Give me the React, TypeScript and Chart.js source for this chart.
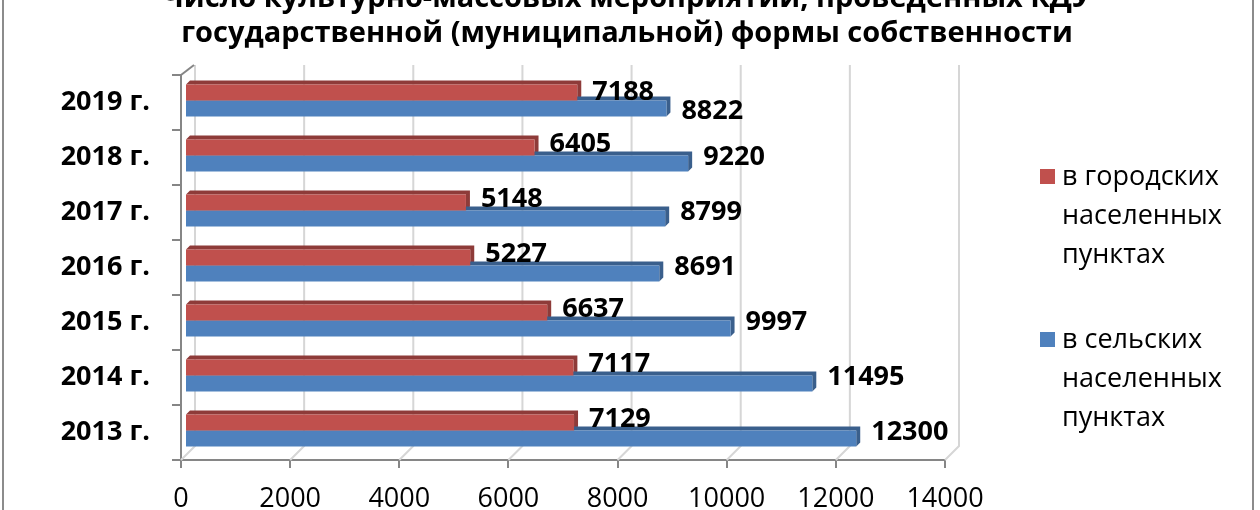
import React, { useEffect, useRef } from "react";
import { Chart, registerables } from "chart.js";

Chart.register(...registerables);

// годы сверху вниз, как на картинке
const years = ["2019 г.", "2018 г.", "2017 г.", "2016 г.", "2015 г.", "2014 г.", "2013 г."];
const cityValues = [7188, 6405, 5148, 5227, 6637, 7117, 7129];
const ruralValues = [8822, 9220, 8799, 8691, 9997, 11495, 12300];
const xTicks = [0, 2000, 4000, 6000, 8000, 10000, 12000, 14000];
const titleLines = [
  "Число культурно-массовых мероприятий, проведенных КДУ",
  "государственной (муниципальной) формы собственности",
];
const legendItems = [
  { lines: ["в городских", "населенных", "пунктах"], color: "#C0504D" },
  { lines: ["в сельских", "населенных", "пунктах"], color: "#4F81BD" },
];

const FONT = "'Open Sans', 'DejaVu Sans', sans-serif";
const SHIFT = 34; // канвас сдвинут вверх, первая строка заголовка обрезана
const DEPTH = 4;
const BAR_DX = 4; // столбцы стоят в середине "глубины"
const BAR_DY = -2;
const WALL_DX = 14; // задняя стенка (сетка)
const darker: Record<string, string> = { "#C0504D": "#8E3B39", "#4F81BD": "#3A5F8C" };

// сетка на задней стенке + диагонали
const wallPlugin = {
  id: "wall",
  beforeDatasetsDraw(chart: any) {
    const ctx = chart.ctx;
    const { top, bottom, left } = chart.chartArea;
    const xs = chart.scales.x;
    ctx.save();
    ctx.strokeStyle = "#d6d6d6";
    ctx.lineWidth = 2;
    xTicks.forEach((v) => {
      const px = xs.getPixelForValue(v);
      ctx.beginPath();
      ctx.moveTo(px + WALL_DX, top - 10);
      ctx.lineTo(px + WALL_DX, bottom - WALL_DX);
      ctx.lineTo(px, bottom);
      ctx.stroke();
    });
    ctx.strokeStyle = "#868686";
    ctx.beginPath();
    ctx.moveTo(left, top);
    ctx.lineTo(left + WALL_DX - 1, top - 10);
    ctx.stroke();
    ctx.restore();
  },
};

// объемные грани столбцов (рисуются до самих столбцов), сдвиг столбцов
const facesPlugin = {
  id: "faces",
  beforeDatasetsDraw(chart: any) {
    const ctx = chart.ctx;
    ctx.save();
    ctx.translate(BAR_DX, BAR_DY);
    chart.data.datasets.forEach((ds: any, i: number) => {
      const meta = chart.getDatasetMeta(i);
      ctx.fillStyle = darker[ds.backgroundColor] || "#555";
      meta.data.forEach((bar: any) => {
        const { x, y, base, height } = bar.getProps(["x", "y", "base", "height"], true);
        const top = y - height / 2;
        const bottom = y + height / 2;
        ctx.beginPath();
        ctx.moveTo(base, top);
        ctx.lineTo(base + DEPTH, top - DEPTH);
        ctx.lineTo(x + DEPTH, top - DEPTH);
        ctx.lineTo(x + DEPTH, bottom - DEPTH);
        ctx.lineTo(x, bottom);
        ctx.lineTo(x, top);
        ctx.closePath();
        ctx.fill();
      });
    });
    // translate остается до afterDatasetsDraw
  },
  afterDatasetsDraw(chart: any) {
    chart.ctx.restore();
  },
};

const valueLabels = {
  id: "valueLabels",
  afterDatasetsDraw(chart: any) {
    const ctx = chart.ctx;
    ctx.save();
    ctx.font = `bold 27px ${FONT}`;
    ctx.fillStyle = "#000";
    ctx.textAlign = "left";
    ctx.textBaseline = "middle";
    chart.data.datasets.forEach((ds: any, i: number) => {
      const meta = chart.getDatasetMeta(i);
      meta.data.forEach((bar: any, j: number) => {
        const { x, y } = bar.getProps(["x", "y"], true);
        // верхняя строка у Excel подписана чуть ниже
        const dy = j === 0 ? (i === 0 ? 0 : 3) : i === 0 ? -3 : -6;
        ctx.fillText(String(ds.data[j]), x + BAR_DX + 15, y + BAR_DY + dy);
      });
    });
    ctx.restore();
  },
};

const titleLegendFrame = {
  id: "titleLegendFrame",
  afterDraw(chart: any) {
    const ctx = chart.ctx;
    ctx.save();
    ctx.strokeStyle = "#8c8c8c";
    ctx.lineWidth = 2;
    ctx.strokeRect(3, 1, 1250, 600);

    ctx.fillStyle = "#000";
    ctx.font = `bold 29px ${FONT}`;
    ctx.textAlign = "center";
    ctx.textBaseline = "alphabetic";
    ctx.fillText(titleLines[0], 627, 7 + SHIFT);
    ctx.fillText(titleLines[1], 627, 42 + SHIFT);

    ctx.font = `27px ${FONT}`;
    ctx.textAlign = "left";
    ctx.textBaseline = "middle";
    const starts = [177, 340];
    legendItems.forEach((item, k) => {
      const y0 = starts[k] + SHIFT;
      ctx.fillStyle = item.color;
      ctx.fillRect(1040, y0 - 8, 15, 15);
      ctx.fillStyle = "#000";
      item.lines.forEach((line, n) => {
        ctx.fillText(line, 1062, y0 + n * 39);
      });
    });
    ctx.restore();
  },
};

const App = () => {
  const canvasRef = useRef<HTMLCanvasElement | null>(null);

  useEffect(() => {
    if (!canvasRef.current) return;
    const chart = new Chart(canvasRef.current, {
      type: "bar",
      data: {
        labels: years,
        datasets: [
          { label: "в городских населенных пунктах", data: cityValues, backgroundColor: "#C0504D" },
          { label: "в сельских населенных пунктах", data: ruralValues, backgroundColor: "#4F81BD" },
        ],
      },
      options: {
        indexAxis: "y",
        responsive: false,
        animation: false,
        layout: { padding: { left: 0, right: 315, top: 75 + SHIFT, bottom: 0 } },
        datasets: { bar: { categoryPercentage: 0.58, barPercentage: 1.0 } },
        scales: {
          x: {
            min: 0,
            max: 14000,
            afterBuildTicks: (scale: any) => {
              scale.ticks = xTicks.map((v) => ({ value: v }));
            },
            afterFit: (scale: any) => {
              scale.height = 50;
            },
            grid: { drawOnChartArea: false, tickColor: "#868686", tickLength: 8, lineWidth: 2 },
            border: { color: "#868686", width: 2 },
            ticks: {
              color: "#000",
              font: { family: FONT, size: 27 },
              padding: 15,
              callback: (v: any) => String(v),
            },
          },
          y: {
            afterFit: (scale: any) => {
              scale.width = 181;
            },
            grid: { drawOnChartArea: false, offset: true, tickColor: "#868686", tickLength: 9, lineWidth: 2 },
            border: { color: "#868686", width: 2 },
            ticks: { color: "#000", font: { family: FONT, size: 27, weight: "bold" }, padding: 22 },
          },
        },
        plugins: {
          legend: { display: false },
          tooltip: { enabled: false },
          title: { display: false },
        },
      },
      plugins: [wallPlugin, facesPlugin, valueLabels, titleLegendFrame],
    } as any);
    return () => chart.destroy();
  }, []);

  return (
    <div style={{ position: "absolute", left: 0, top: -SHIFT, width: 1260, height: 510 + SHIFT, background: "#fff" }}>
      <canvas ref={canvasRef} width={1260} height={510 + SHIFT} />
    </div>
  );
};

export default App;
